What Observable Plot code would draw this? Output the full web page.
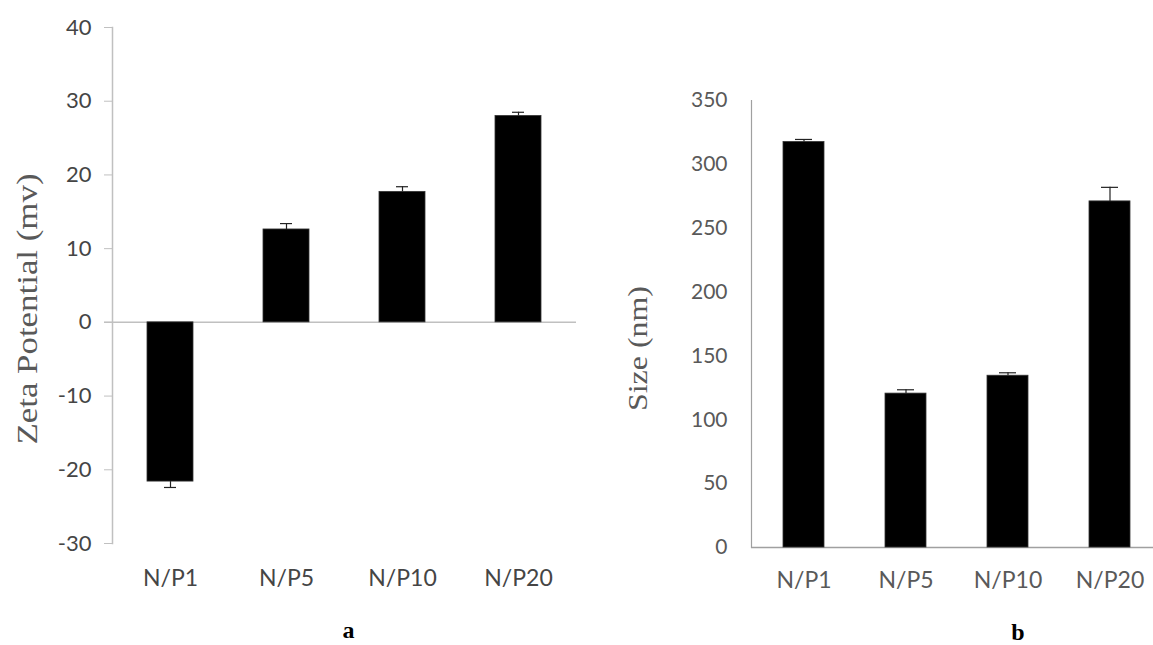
<!DOCTYPE html>
<html>
<head>
<meta charset="utf-8">
<script src="https://cdn.jsdelivr.net/npm/d3@7"></script>
<script src="https://cdn.jsdelivr.net/npm/@observablehq/plot@0.6"></script>
<style>
  html, body { margin: 0; padding: 0; background: #fff; overflow: hidden; }
  #wrap { position: relative; width: 1153px; height: 645px; overflow: hidden; }
  #wrap svg { position: absolute; top: 0; background: transparent; }
</style>
</head>
<body>
<div id="wrap"></div>
<script>
const categories = ["N/P1", "N/P5", "N/P10", "N/P20"];
const zetaValues = [-21.6, 12.6, 17.7, 28.0];
const zetaErrors = [0.8, 0.8, 0.7, 0.5];
const sizeValues = [317.5, 120.5, 134.5, 271];
const sizeErrors = [2, 3, 2.3, 11];
const zetaTicks = [-30, -20, -10, 0, 10, 20, 30, 40];
const sizeTicks = [0, 50, 100, 150, 200, 250, 300, 350];
const zetaLabel = "Zeta Potential (mv)";
const sizeLabel = "Size (nm)";
const panelLetters = ["a", "b"];

const zetaData = categories.map((c, i) => ({cat: c, value: zetaValues[i], end: zetaValues[i] + Math.sign(zetaValues[i]) * zetaErrors[i]}));
const sizeData = categories.map((c, i) => ({cat: c, value: sizeValues[i], end: sizeValues[i] + sizeErrors[i]}));

const tickFont = "Lato, 'Open Sans', sans-serif";
const serif = "'Liberation Serif', 'DejaVu Serif', serif";
const greyA = "#454545";
const greyB = "#595959";
const plainFormat = d => String(d);

const wrap = document.getElementById("wrap");

// Panel a
const plotA = Plot.plot({
  width: 580,
  height: 645,
  marginLeft: 112,
  marginRight: 4,
  marginTop: 27,
  marginBottom: 102,
  style: {background: "transparent", fontFamily: tickFont},
  x: {domain: categories, paddingInner: 0.6, paddingOuter: 0.3, label: null},
  y: {domain: [-30, 40], label: null},
  marks: [
    Plot.ruleY([0], {stroke: "#c0c0c0", strokeWidth: 1.5, insetLeft: -8}),
    Plot.barY(zetaData, {x: "cat", y: "value", fill: "#000", stroke: "#333", strokeWidth: 0.8}),
    Plot.ruleX(zetaData, {x: "cat", y1: "value", y2: "end", stroke: "#222", strokeWidth: 1.2}),
    Plot.tickY(zetaData, {x: "cat", y: "end", stroke: "#222", strokeWidth: 1.2, insetLeft: 17, insetRight: 17}),
    Plot.axisY({ticks: zetaTicks, tickFormat: plainFormat, tickSize: 8, tickPadding: 13, stroke: "#c0c0c0", fill: greyA, fontSize: 22, letterSpacing: 1.5}),
    Plot.frame({anchor: "left", stroke: "#c0c0c0", strokeWidth: 1.5}),
    Plot.axisX({tickSize: 0, tickPadding: 26, fill: greyA, fontSize: 23, letterSpacing: 1, label: null}),
    Plot.text([zetaLabel], {frameAnchor: "left", text: d => d, rotate: -90, textAnchor: "start", dx: -85, dy: 159, fontSize: 30, fontFamily: serif, fill: greyB}),
    Plot.text([panelLetters[0]], {frameAnchor: "bottom", text: d => d, dx: 4, dy: 94, lineAnchor: "bottom", fontSize: 24, fontWeight: "bold", fontFamily: serif, fill: "#000"})
  ]
});
plotA.style.left = "0px";
wrap.appendChild(plotA);

// Panel b
const plotB = Plot.plot({
  width: 582,
  height: 645,
  marginLeft: 171,
  marginRight: 0,
  marginTop: 100,
  marginBottom: 98,
  style: {background: "transparent", fontFamily: tickFont},
  x: {domain: categories, paddingInner: 0.6, paddingOuter: 0.3, label: null},
  y: {domain: [0, 350], label: null},
  marks: [
    Plot.ruleY([0], {stroke: "#a0a0a0", strokeWidth: 1.5}),
    Plot.barY(sizeData, {x: "cat", y: "value", fill: "#000", stroke: "#333", strokeWidth: 0.8}),
    Plot.ruleX(sizeData, {x: "cat", y1: "value", y2: "end", stroke: "#222", strokeWidth: 1.2}),
    Plot.tickY(sizeData, {x: "cat", y: "end", stroke: "#222", strokeWidth: 1.2, insetLeft: 12, insetRight: 12}),
    Plot.axisY({ticks: sizeTicks, tickFormat: plainFormat, tickSize: 0, tickPadding: 24, fill: greyB, fontSize: 21, letterSpacing: 1}),
    Plot.frame({anchor: "left", stroke: "#a0a0a0", strokeWidth: 1.2}),
    Plot.axisX({tickSize: 0, tickPadding: 24, fill: greyB, fontSize: 23, letterSpacing: 0.5, label: null}),
    Plot.text([sizeLabel], {frameAnchor: "left", text: d => d, rotate: -90, textAnchor: "start", dx: -113, dy: 87, fontSize: 27, fontFamily: serif, fill: greyB}),
    Plot.text([panelLetters[1]], {frameAnchor: "bottom", text: d => d, dx: 61, dy: 92, lineAnchor: "bottom", fontSize: 24, fontWeight: "bold", fontFamily: serif, fill: "#000"})
  ]
});
plotB.style.left = "580px";
wrap.appendChild(plotB);

// stretch axis titles to the measured lengths in the reference
d3.select(plotA).selectAll("text").filter(function() { return this.textContent === zetaLabel; })
  .attr("textLength", 271).attr("lengthAdjust", "spacingAndGlyphs");
d3.select(plotB).selectAll("text").filter(function() { return this.textContent === sizeLabel; })
  .attr("textLength", 125).attr("lengthAdjust", "spacingAndGlyphs");
</script>
</body>
</html>
